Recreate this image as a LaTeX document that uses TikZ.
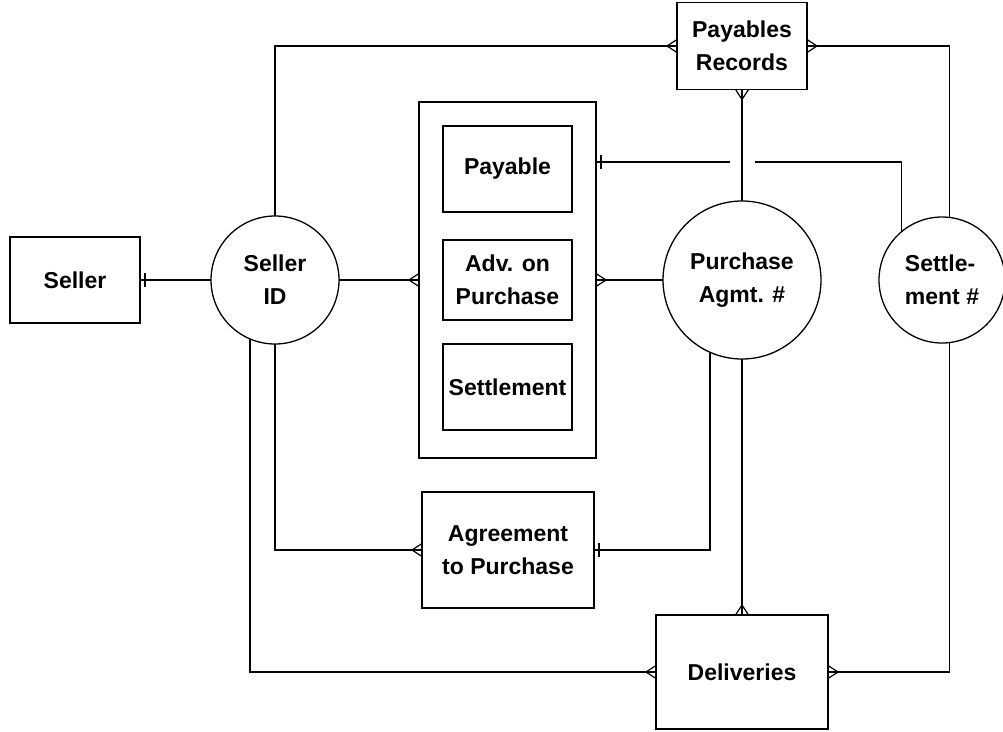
\documentclass[tikz,border=0pt]{standalone}
\usepackage{fontspec}
\setmainfont{Liberation Sans}
\usetikzlibrary{decorations.markings}

\begin{document}
\begin{tikzpicture}[x=1pt, y=-1pt,
        ent/.style={draw, line width=1.6pt, align=center, inner sep=0pt,
                    outer sep=0pt, font=\fontsize{23}{33}\selectfont\bfseries},
        key/.style={ent, circle, line width=1.3pt},
        link/.style={line width=1.4pt},
        many/.style={link, postaction={decorate}, decoration={markings,
            mark=at position 1 with {\draw[line width=1.2pt]
                (-10pt,0) -- (0,6.5pt) (-10pt,0) -- (0,-6.5pt);}}},
        one/.style={link, postaction={decorate}, decoration={markings,
            mark=at position -5pt with {\draw[line width=1.4pt]
                (0,-7pt) -- (0,7pt);}}}
    ]
        \useasboundingbox (0,0) rectangle (1003,731);

        % entities
        \node[ent, minimum width=130pt, minimum height=86pt] (seller) at (75,280) {Seller};
        \node[ent, minimum width=177pt, minimum height=356pt] (cont) at (507.5,280) {};
        \node[ent, minimum width=129pt, minimum height=86pt] (payable) at (507.5,169) {Payable};
        \node[ent, minimum width=129pt, minimum height=80pt] (adv) at (507.5,280) {Adv. on\\Purchase};
        \node[ent, minimum width=129pt, minimum height=86pt] (settle) at (507.5,387) {Settlement};
        \node[ent, minimum width=130pt, minimum height=87pt] (records) at (742,46) {Payables\\Records};
        \node[ent, minimum width=172pt, minimum height=116pt] (agree) at (508,550) {Agreement\\to Purchase};
        \node[ent, minimum width=172pt, minimum height=114pt] (deliv) at (742,672) {Deliveries};

        % keys
        \node[key, minimum size=128pt] (sellerid) at (275,280) {Seller\\ID};
        \node[key, minimum size=158pt] (purch) at (742,280) {Purchase\\Agmt. \#};
        \node[key, minimum size=126pt, align=left] (settno) at (942,280) {Settle-\\ment \#};

        % hop where the payable link crosses
        \coordinate (hopR) at (755,162);
        \coordinate (hopL) at (730,162);

        % relationships
        \draw[one] (sellerid) -- (seller);
        \draw[many] (sellerid) -- (cont);
        \draw[many] (purch) -- (cont);
        \draw[many] (sellerid) |- (records);
        \draw[many] (settno.83) |- (records);
        \draw[many] (purch) -- (records);
        \draw[link] (settno.130) |- (hopR);
        \draw[one] (hopL) -- (cont.east |- hopL);
        \draw[many] (sellerid) |- (agree);
        \draw[one] (purch.-114) |- (agree);
        \draw[many] (purch) -- (deliv);
        \draw[many] (sellerid.-113) |- (deliv);
        \draw[many] (settno.-83) |- (deliv);
    \end{tikzpicture}
\end{document}
